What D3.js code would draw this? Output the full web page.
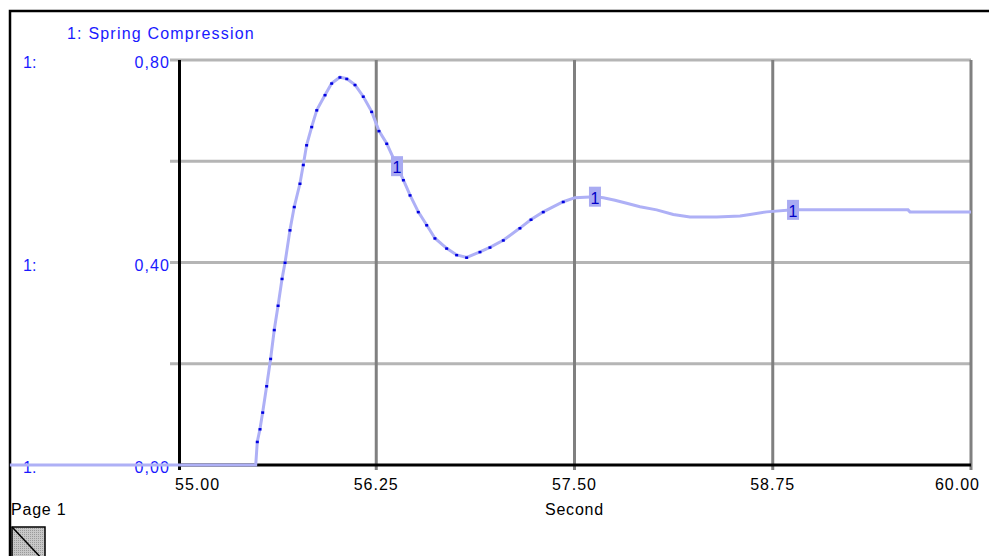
<!DOCTYPE html>
<html>
<head>
<meta charset="utf-8">
<script src="https://cdn.jsdelivr.net/npm/d3@7"></script>
<style>
  body { margin: 0; background: #fff; }
  svg { display: block; font-family: Arial, "Liberation Sans", sans-serif; }
</style>
</head>
<body>
<div class="chart"></div>
<script>
// values
const seriesName = "1: Spring Compression";
const times = [53.94, 55.49, 55.500, 55.517, 55.534, 55.559, 55.584, 55.607, 55.631, 55.656, 55.675,
  55.706, 55.733, 55.769, 55.790, 55.811, 55.843, 55.875, 55.927, 55.969, 56.021, 56.064,
  56.116, 56.168, 56.221, 56.267, 56.316, 56.358, 56.421, 56.463, 56.515, 56.568, 56.620,
  56.694, 56.757, 56.820, 56.904, 56.967, 57.051, 57.156, 57.226, 57.303, 57.429, 57.503,
  57.629, 57.682, 57.755, 57.829, 57.913, 58.018, 58.123, 58.228, 58.397, 58.544, 58.607,
  58.712, 58.878, 59.603, 59.615, 60.0];
const compression = [0, 0, 0.046, 0.071, 0.104, 0.156, 0.210, 0.267, 0.315, 0.368, 0.400,
  0.464, 0.510, 0.556, 0.593, 0.632, 0.668, 0.701, 0.731, 0.754, 0.766, 0.763,
  0.751, 0.728, 0.698, 0.660, 0.635, 0.606, 0.563, 0.533, 0.500, 0.474, 0.448,
  0.428, 0.415, 0.410, 0.421, 0.430, 0.444, 0.468, 0.485, 0.500, 0.520, 0.528,
  0.530, 0.528, 0.523, 0.517, 0.510, 0.504, 0.495, 0.490, 0.490, 0.492, 0.495,
  0.500, 0.504, 0.504, 0.500, 0.500];
const markerTimes = [56.381, 57.629, 58.878];
const xTicks = [55, 56.25, 57.5, 58.75, 60];
const yLabelTicks = [0, 0.4, 0.8];
const yGridTicks = [0.2, 0.4, 0.6, 0.8];
const xTitle = "Second";
const pageLabel = "Page 1";

const W = 989, H = 556;
const plot = {left: 178, right: 971, top: 60, bottom: 465};

const svg = d3.select(".chart").append("svg")
    .attr("width", W)
    .attr("height", H);

const data = times.map((t, i) => ({t: t, v: compression[i]}));

const xScale = d3.scaleLinear().domain([55, 60]).range([plot.left, plot.right]);
const yScale = d3.scaleLinear().domain([0, 0.8]).range([plot.bottom, plot.top]);

const blue = "#1a1aff";

// outer frame
svg.append("path")
    .attr("d", `M10,${H} V11 H${W}`)
    .attr("fill", "none")
    .attr("stroke", "#000")
    .attr("stroke-width", 2.5);

// title
svg.append("text")
    .attr("x", 67).attr("y", 39)
    .attr("fill", blue)
    .attr("font-size", 16)
    .attr("letter-spacing", 1.2)
    .text(seriesName);

// horizontal grid
svg.selectAll(".hgrid").data(yGridTicks).join("line")
    .attr("class", "hgrid")
    .attr("x1", plot.left - 8).attr("x2", plot.right)
    .attr("y1", d => yScale(d)).attr("y2", d => yScale(d))
    .attr("stroke", "#b5b5b5")
    .attr("stroke-width", 3);

// vertical grid
svg.selectAll(".vgrid").data(xTicks.slice(1)).join("line")
    .attr("class", "vgrid")
    .attr("x1", d => xScale(d)).attr("x2", d => xScale(d))
    .attr("y1", plot.top).attr("y2", plot.bottom + 5)
    .attr("stroke", "#808080")
    .attr("stroke-width", 3);

// axes lines
svg.append("line")
    .attr("x1", plot.left + 1.5).attr("x2", plot.left + 1.5)
    .attr("y1", plot.top).attr("y2", plot.bottom + 5)
    .attr("stroke", "#000").attr("stroke-width", 3);
svg.append("line")
    .attr("x1", plot.left).attr("x2", plot.right)
    .attr("y1", plot.bottom).attr("y2", plot.bottom)
    .attr("stroke", "#000").attr("stroke-width", 3);

// y labels
const fmtY = d => d3.format(".2f")(d).replace(".", ",");
svg.selectAll(".ylab").data(yLabelTicks).join("text")
    .attr("class", "ylab")
    .attr("x", plot.left - 8)
    .attr("y", d => yScale(d) + 8)
    .attr("text-anchor", "end")
    .attr("fill", blue)
    .attr("font-size", 16)
    .attr("letter-spacing", 1.1)
    .text(fmtY);
svg.selectAll(".yser").data(yLabelTicks).join("text")
    .attr("class", "yser")
    .attr("x", 23)
    .attr("y", d => yScale(d) + 8)
    .attr("fill", blue)
    .attr("font-size", 16)
    .text("1:");

// x labels
svg.selectAll(".xlab").data(xTicks).join("text")
    .attr("class", "xlab")
    .attr("x", (d, i) => i === 0 ? xScale(d) - 3 : i === xTicks.length - 1 ? xScale(d) + 9 : xScale(d))
    .attr("y", plot.bottom + 25)
    .attr("text-anchor", (d, i) => i === 0 ? "start" : i === xTicks.length - 1 ? "end" : "middle")
    .attr("fill", "#000")
    .attr("font-size", 16)
    .attr("letter-spacing", 1)
    .text(d => d3.format(".2f")(d));

svg.append("text")
    .attr("x", xScale(57.5)).attr("y", 515)
    .attr("text-anchor", "middle")
    .attr("font-size", 16)
    .attr("letter-spacing", 0.8)
    .text(xTitle);

svg.append("text")
    .attr("x", 11).attr("y", 515)
    .attr("font-size", 16)
    .attr("letter-spacing", 0.8)
    .text(pageLabel);

// page icon
const defs = svg.append("defs");
const pat = defs.append("pattern")
    .attr("id", "hatch")
    .attr("width", 2).attr("height", 2)
    .attr("patternUnits", "userSpaceOnUse");
pat.append("rect").attr("width", 2).attr("height", 2).attr("fill", "#c8c8c8");
pat.append("rect").attr("width", 1).attr("height", 1).attr("fill", "#9a9a9a");
svg.append("rect")
    .attr("x", 12).attr("y", 527).attr("width", 33).attr("height", 35)
    .attr("fill", "url(#hatch)")
    .attr("stroke", "#000").attr("stroke-width", 1.5);
svg.append("line")
    .attr("x1", 12).attr("y1", 527).attr("x2", 45).attr("y2", 562)
    .attr("stroke", "#000").attr("stroke-width", 1.5);

// series line
const line = d3.line()
    .x(d => xScale(d.t))
    .y(d => yScale(d.v));

svg.append("path")
    .datum(data)
    .attr("d", line)
    .attr("fill", "none")
    .attr("stroke", "#aeb0f6")
    .attr("stroke-width", 3);

// dark sample dots where the curve moves
const dots = data.filter((d, i) => i > 1 && d.t < 57.45);
svg.selectAll(".dot").data(dots).join("rect")
    .attr("class", "dot")
    .attr("x", d => xScale(d.t) - 1.5)
    .attr("y", d => yScale(d.v) - 1)
    .attr("width", 3).attr("height", 2.5)
    .attr("fill", "#0000e0");

// series markers
const valueAt = t => {
    const i = d3.bisector(d => d.t).right(data, t);
    const a = data[i - 1], b = data[i];
    return a.v + (b.v - a.v) * (t - a.t) / (b.t - a.t);
};
const markers = svg.selectAll(".marker").data(markerTimes).join("g")
    .attr("class", "marker")
    .attr("transform", t => `translate(${xScale(t)},${yScale(valueAt(t))})`);
markers.append("rect")
    .attr("x", -6).attr("y", -10).attr("width", 12).attr("height", 20)
    .attr("fill", "#a9abf2");
markers.append("text")
    .attr("y", 7)
    .attr("text-anchor", "middle")
    .attr("fill", "#0000c8")
    .attr("font-size", 16)
    .text("1");
</script>
</body>
</html>
